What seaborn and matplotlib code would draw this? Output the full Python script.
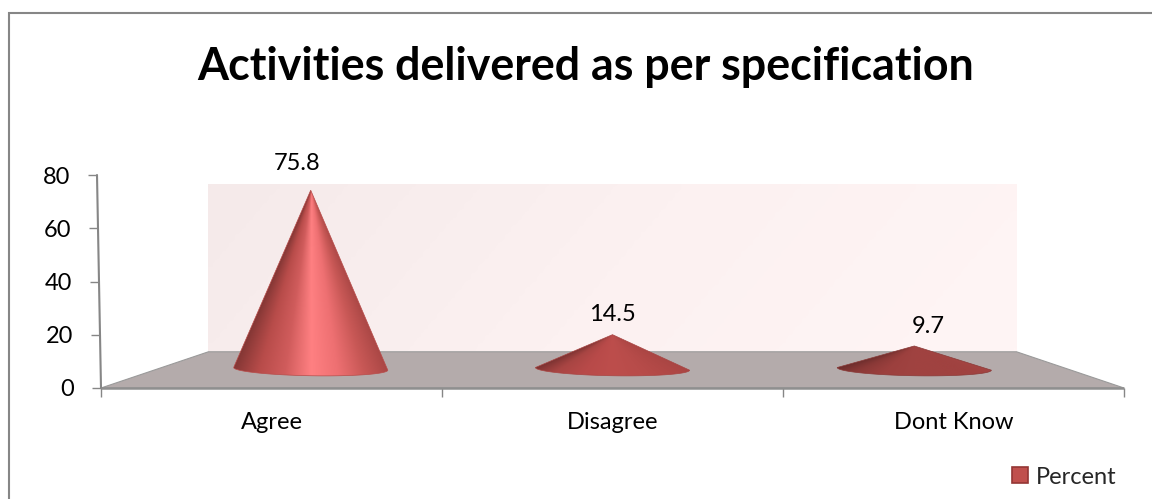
import numpy as np
import matplotlib
matplotlib.use("Agg")
import matplotlib.pyplot as plt
from matplotlib.colors import LinearSegmentedColormap
from matplotlib.lines import Line2D
from matplotlib.patches import Patch, Polygon
import seaborn as sns

categories = ["Agree", "Disagree", "Dont Know"]
percent = [75.8, 14.5, 9.7]
y_ticks = [0, 20, 40, 60, 80]
title = "Activities delivered as per specification"
series_name = "Percent"

# Shading across each cone, left edge to right edge
cone_shades = [
    ["#853735", "#b84c4a", "#d05c5c", "#ff8082", "#ee7072", "#c85856", "#a84644"],
    ["#7d3332", "#a84543", "#b84a49", "#bd4e4c", "#b84c4a", "#b04846", "#a84543"],
    ["#6e2e2d", "#8a3937", "#9c403e", "#a04341", "#a04240", "#a04240", "#a54543"],
]

W, H = 1152, 499
sns.set_theme(style="white")
plt.rcParams["font.family"] = ["Lato", "DejaVu Sans"]

fig = plt.figure(figsize=(W / 100, H / 100), dpi=100, facecolor="white")
ax = fig.add_axes([101 / W, 1 - 388 / H, 1023 / W, 213 / H])

# Chart frame: only the top and left edges fall inside the image
fig.add_artist(Line2D([9 / W, 9 / W, 1], [0, 1 - 13 / H, 1 - 13 / H], transform=fig.transFigure,
                      color="#868686", linewidth=1.5, solid_joinstyle="miter"))

sns.barplot(x=categories, y=percent, ax=ax, color="#c0504d", width=0.45)
bars = list(ax.patches)
for bar in bars:
    bar.set_visible(False)
ax.set_xlim(-0.5, 2.5)
ax.set_ylim(0, 80)
ax.patch.set_visible(False)
for spine in ax.spines.values():
    spine.set_visible(False)

# Perspective: marks further back shrink toward the centre of the plot
MID = 1.0
BACK = 0.79
CONE = 0.885
LABEL = 0.925
FLOOR_BACK_Y = 13.6
CONE_BASE_Y = 7.2
LABEL_BASE_Y = 14.1
CONE_HALF_WIDTH = 0.226
ELLIPSE_Y = 2.6
ELLIPSE_TILT = 0.5


def depth_x(x, factor):
    return MID + (x - MID) * factor


# Back wall with a faint diagonal tint
wall_l, wall_r = depth_x(-0.5, BACK), depth_x(2.5, BACK)
wall_top = FLOOR_BACK_Y + 80 * BACK - 0.3
wall_cmap = LinearSegmentedColormap.from_list("wall", ["#f5eaea", "#fcf1f1", "#fff5f5"])
gx, gy = np.meshgrid(np.linspace(0, 1, 120), np.linspace(0, 1, 60))
wall_img = ax.imshow(0.85 * gx + 0.15 * (1 - gy), extent=(wall_l, wall_r, FLOOR_BACK_Y, wall_top),
                     origin="lower", aspect="auto", cmap=wall_cmap, zorder=1, vmin=0, vmax=1)

# Floor
ax.add_patch(Polygon([(-0.5, 0), (2.5, 0), (wall_r, FLOOR_BACK_Y), (wall_l, FLOOR_BACK_Y)],
                     closed=True, facecolor="#b4abab", edgecolor="#9a9a9a", linewidth=0.8, zorder=2))
ax.plot([-0.5, 2.5], [0, 0], color="#8f8f8f", linewidth=1.8, zorder=3, clip_on=False,
        solid_capstyle="butt")

# Cones, one for each bar height
for i, bar in enumerate(bars):
    value = bar.get_height()
    cx = depth_x(i, CONE)
    height = value * CONE
    t = np.linspace(np.pi, 2 * np.pi, 80)
    rim_x = cx + CONE_HALF_WIDTH * np.cos(t)
    rim_y = CONE_BASE_Y + ELLIPSE_Y * np.sin(t) - ELLIPSE_TILT * np.cos(t)
    outline = np.column_stack([np.r_[rim_x, cx], np.r_[rim_y, CONE_BASE_Y + height]])
    cone = Polygon(outline, closed=True, transform=ax.transData, facecolor="none",
                   edgecolor=cone_shades[i][1], linewidth=0.5, zorder=5)
    ax.add_patch(cone)

    x0, x1 = cx - CONE_HALF_WIDTH, cx + CONE_HALF_WIDTH
    y0, y1 = CONE_BASE_Y - ELLIPSE_Y - 1, CONE_BASE_Y + height
    xx, yy = np.meshgrid(np.linspace(x0, x1, 400), np.linspace(y0, y1, 400))
    taper = np.clip(1 - (yy - CONE_BASE_Y) / height, 1e-3, None)
    fan = (xx - cx) / (CONE_HALF_WIDTH * taper)
    cmap = LinearSegmentedColormap.from_list(f"cone{i}", cone_shades[i])
    img = ax.imshow(fan, extent=(x0, x1, y0, y1), origin="lower", aspect="auto",
                    cmap=cmap, vmin=-1, vmax=1, zorder=4, interpolation="bilinear")
    img.set_clip_path(cone)

    ax.text(depth_x(i, LABEL), LABEL_BASE_Y + value * LABEL, f"{value:g}", ha="center", va="center",
            fontsize=17, color="black", zorder=6)

ax.set_xlim(-0.5, 2.5)
ax.set_ylim(0, 80)

# Category axis: ticks at the category boundaries, labels between them
ax.set_xticks(range(len(categories)), categories)
ax.set_xticks([-0.5, 0.5, 1.5, 2.5], minor=True)
ax.tick_params(axis="x", which="major", length=0, pad=17, labelsize=17, labelcolor="black")
ax.tick_params(axis="x", which="minor", length=6.5, width=1, color="#868686", bottom=True)

# Value axis leans slightly, as seen on a 3-D chart
LEAN = 4 / 1023
ax.set_yticks(y_ticks)
ax.tick_params(axis="y", which="major", length=6.5, width=1, color="#868686", left=True,
               pad=13, labelsize=17, labelcolor="black")
for tick, v in zip(ax.yaxis.get_major_ticks(), y_ticks):
    offset = -LEAN * v / 80
    tick.tick1line.set_xdata([offset])
    tick.label1.set_x(offset)
ax.plot([0, -LEAN], [0, 80], transform=ax.get_yaxis_transform(), color="#868686",
        linewidth=1.5, clip_on=False, zorder=3)

# Title and legend
fig.text(586 / W, 1 - 67 / H, title, ha="center", va="center", fontsize=32.2, fontweight="bold",
         color="black")
ax.legend(handles=[Patch(facecolor="#c0504d", edgecolor="#943634", linewidth=1.2, label=series_name)],
          loc="center right", bbox_to_anchor=(1117 / W, 1 - 477 / H), bbox_transform=fig.transFigure,
          frameon=False, fontsize=17, handlelength=0.68, handleheight=0.68, handletextpad=0.35,
          borderpad=0, borderaxespad=0)

fig.savefig("out.png", dpi=100)
